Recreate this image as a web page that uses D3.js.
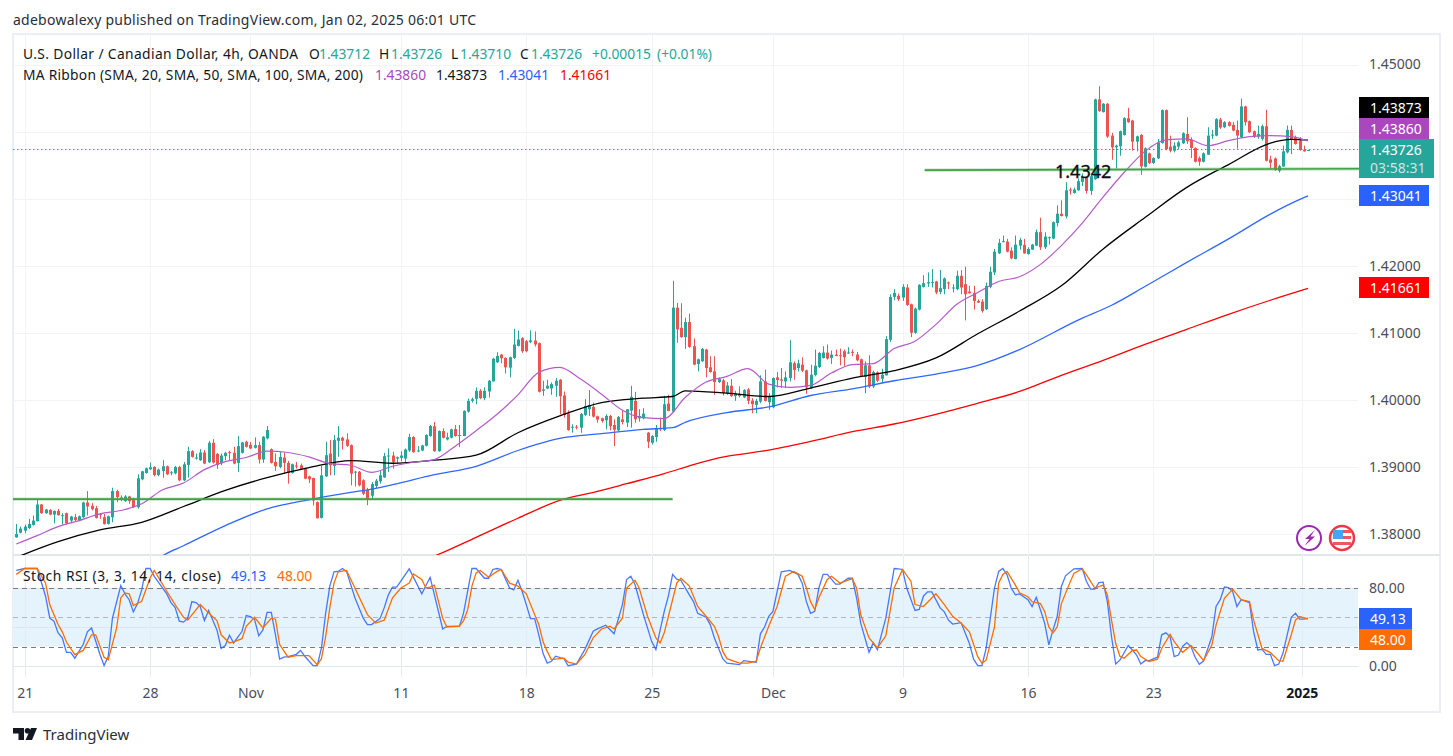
<!DOCTYPE html>
<html>
<head>
<meta charset="utf-8">
<script src="https://cdnjs.cloudflare.com/ajax/libs/d3/7.8.5/d3.min.js"></script>
<style>
  html, body { margin: 0; padding: 0; background: #fff; }
  svg { display: block; }
  text { font-family: "Noto Sans", sans-serif; }
</style>
</head>
<body>
<div id="container"></div>
<script>
// 4h candles, oldest first
const opens = [
1.3795,1.3802,1.3805,1.3809,1.38135,1.3819,1.3844,1.3831,1.3836,1.3829,
1.38345,1.3827,1.3831,1.382,1.3825,1.382,1.3825,1.3847,1.3842,1.38385,
1.38295,1.3825,1.3815,1.3825,1.3864,1.38545,1.3849,1.3856,1.3852,1.384,
1.38815,1.3891,1.38965,1.39,1.3888,1.3894,1.3901,1.38905,1.38905,1.39,
1.388,1.3903,1.39235,1.39125,1.391,1.39215,1.3907,1.3936,1.39195,1.39055,
1.3916,1.3922,1.3921,1.3906,1.3921,1.39375,1.3933,1.39285,1.39325,1.3911,
1.39425,1.39265,1.39075,1.39,1.3914,1.3906,1.3891,1.3902,1.39025,1.3898,
1.3886,1.38835,1.38475,1.3824,1.3886,1.392,1.39015,1.3939,1.39435,1.3941,
1.39325,1.3892,1.3893,1.388,1.3866,1.3857,1.38715,1.38785,1.38845,1.3916,
1.3917,1.39125,1.39135,1.39125,1.39245,1.39445,1.39235,1.39245,1.39315,1.3946,
1.39605,1.39235,1.39535,1.3941,1.39435,1.39565,1.39475,1.3946,1.39825,1.39985,
1.40015,1.40135,1.40025,1.40125,1.40275,1.4056,1.40675,1.40625,1.4048,1.40625,
1.40805,1.4092,1.40875,1.4086,1.40885,1.40845,1.40135,1.4017,1.4017,1.4021,
1.403,1.40065,1.39795,1.39585,1.396,1.39585,1.39775,1.3986,1.39895,1.39755,
1.39725,1.39695,1.3976,1.39625,1.39545,1.3971,1.3966,1.3984,1.39985,1.39725,
1.39725,1.3951,1.3936,1.39445,1.39575,1.3955,1.39945,1.39825,1.41375,1.41075,
1.40935,1.4116,1.408,1.40535,1.40575,1.4075,1.40485,1.40425,1.40265,1.4029,
1.401,1.4021,1.40055,1.4009,1.40035,1.40155,1.3999,1.39925,1.39975,1.40275,
1.39965,1.3989,1.40335,1.40305,1.40275,1.40325,1.40545,1.40475,1.40525,1.4044,
1.40175,1.4037,1.4049,1.40625,1.40705,1.40625,1.40675,1.40665,1.40725,1.40695,
1.40715,1.40675,1.40605,1.4034,1.40515,1.402,1.4041,1.40315,1.40365,1.40895,
1.41535,1.4155,1.41525,1.41675,1.41425,1.41,1.41345,1.41685,1.41735,1.4175,
1.41765,1.4161,1.4165,1.4175,1.41665,1.4165,1.4185,1.41725,1.41615,1.41595,
1.41475,1.41465,1.4135,1.41685,1.419,1.42185,1.4235,1.4236,1.42225,1.421,
1.423,1.4231,1.42175,1.4224,1.423,1.425,1.42275,1.42415,1.42405,1.42635,
1.42775,1.42735,1.43135,1.43085,1.43125,1.4325,1.4331,1.43115,1.4329,1.4448,
1.4429,1.44415,1.4394,1.43765,1.4378,1.4395,1.442,1.44165,1.4385,1.4395,
1.43475,1.43675,1.4353,1.436,1.4383,1.4432,1.43775,1.43715,1.43775,1.43825,
1.43965,1.43875,1.43755,1.43605,1.4355,1.43655,1.4395,1.4394,1.4418,1.44065,
1.4414,1.441,1.44025,1.43915,1.44375,1.44155,1.44005,1.43925,1.4389,1.4408,
1.43585,1.436,1.43415,1.4348,1.4369,1.44025,1.43915,1.43865,1.4373,1.43712];
const highs = [
1.3815,1.3811,1.3814,1.38225,1.38275,1.3851,1.3845,1.38375,1.3837,1.3835,
1.38375,1.3831,1.3832,1.3827,1.383,1.38275,1.3848,1.3864,1.3846,1.3842,
1.3831,1.383,1.38275,1.3869,1.3866,1.38575,1.3858,1.3857,1.3854,1.3889,
1.3894,1.3899,1.39065,1.3901,1.38975,1.391,1.3902,1.3894,1.39015,1.39015,
1.39075,1.393,1.3925,1.392,1.39265,1.3925,1.3939,1.39415,1.39205,1.392,
1.39225,1.3924,1.393,1.3946,1.39375,1.3939,1.3937,1.3944,1.39375,1.3946,
1.3961,1.39275,1.392,1.39225,1.3921,1.3909,1.3905,1.39075,1.3905,1.3899,
1.3887,1.3884,1.38485,1.39015,1.39375,1.394,1.39475,1.3961,1.3945,1.395,
1.39335,1.3894,1.3894,1.38815,1.3869,1.38775,1.3882,1.38945,1.3921,1.39275,
1.39225,1.39155,1.39235,1.39275,1.39495,1.3946,1.3931,1.3933,1.39485,1.39625,
1.3967,1.39545,1.39575,1.3951,1.3957,1.39625,1.39625,1.39845,1.4002,1.40035,
1.40185,1.4016,1.40185,1.40295,1.40625,1.4071,1.40685,1.40635,1.40645,1.4106,
1.41035,1.40935,1.40895,1.41035,1.4102,1.40855,1.40285,1.403,1.4026,1.40325,
1.4031,1.40125,1.39845,1.39635,1.39625,1.39805,1.4001,1.40145,1.3996,1.39765,
1.39735,1.39785,1.39775,1.3971,1.3976,1.39845,1.3986,1.4021,1.4012,1.3986,
1.39875,1.3952,1.39475,1.39625,1.39735,1.4006,1.40075,1.41775,1.41445,1.4144,
1.41225,1.41285,1.40915,1.40615,1.40775,1.4076,1.4065,1.4065,1.40335,1.40315,
1.40265,1.4031,1.40135,1.402,1.4016,1.40175,1.40025,1.40015,1.40365,1.4045,
1.401,1.40335,1.40415,1.40475,1.40425,1.4089,1.40575,1.406,1.40635,1.4045,
1.40525,1.4075,1.40715,1.408,1.40825,1.40735,1.4075,1.40765,1.4075,1.40785,
1.4075,1.40715,1.40615,1.40575,1.40665,1.40435,1.40425,1.40465,1.4095,1.41575,
1.4165,1.41585,1.41725,1.41725,1.41435,1.41375,1.41725,1.4186,1.419,1.4195,
1.41775,1.41935,1.41825,1.41765,1.41725,1.41925,1.41935,1.41985,1.417,1.417,
1.415,1.415,1.4175,1.41985,1.4225,1.424,1.4245,1.424,1.42275,1.4245,
1.42415,1.424,1.42275,1.42325,1.4254,1.42715,1.425,1.42435,1.4266,1.429,
1.42975,1.43245,1.43165,1.43165,1.433,1.43375,1.43325,1.4335,1.4449,1.44675,
1.44425,1.44425,1.4398,1.43805,1.44015,1.44215,1.44355,1.44175,1.4394,1.43965,
1.43765,1.43685,1.43615,1.4389,1.4433,1.4433,1.4394,1.4384,1.43865,1.4399,
1.44215,1.43915,1.43765,1.4363,1.4369,1.44065,1.44025,1.442,1.44205,1.44155,
1.44155,1.4414,1.44165,1.4449,1.44385,1.44165,1.44015,1.4409,1.44105,1.44325,
1.4364,1.43615,1.43505,1.4379,1.4409,1.4409,1.4394,1.43915,1.4379,1.43726];
const lows = [
1.37945,1.3801,1.3801,1.38075,1.38125,1.3819,1.383,1.383,1.3828,1.3816,
1.38275,1.3814,1.3814,1.3816,1.3819,1.3819,1.3824,1.38275,1.3835,1.3823,
1.38225,1.3814,1.3814,1.38175,1.38475,1.3849,1.3848,1.3845,1.3839,1.3838,
1.388,1.389,1.38955,1.3886,1.3886,1.3884,1.3888,1.38875,1.3889,1.38785,
1.3879,1.3884,1.3914,1.3911,1.3909,1.3904,1.3906,1.3905,1.3897,1.39025,
1.391,1.391,1.3904,1.38925,1.392,1.3929,1.39265,1.39275,1.3905,1.3906,
1.3941,1.3905,1.3894,1.3898,1.389,1.3875,1.389,1.38975,1.3896,1.38815,
1.3876,1.38425,1.3823,1.3823,1.3885,1.38875,1.38875,1.3915,1.3926,1.393,
1.38725,1.3871,1.3871,1.3858,1.3843,1.3851,1.3868,1.3875,1.38835,1.38925,
1.38975,1.3906,1.39085,1.39075,1.39225,1.3921,1.3922,1.39235,1.39305,1.3945,
1.39225,1.39225,1.39425,1.39395,1.39425,1.3945,1.39295,1.3946,1.3981,1.3996,
1.39935,1.4001,1.39995,1.40035,1.40275,1.4055,1.40545,1.40395,1.40335,1.4061,
1.40795,1.407,1.4071,1.40845,1.40795,1.4011,1.4006,1.4016,1.40075,1.40045,
1.39785,1.39735,1.3954,1.3951,1.3956,1.3951,1.3976,1.3976,1.39735,1.3966,
1.3966,1.3956,1.39545,1.3931,1.39535,1.39635,1.39595,1.39585,1.3966,1.39675,
1.3971,1.3928,1.39335,1.39375,1.39535,1.39535,1.3983,1.39815,1.4085,1.40925,
1.4076,1.40775,1.40515,1.40425,1.40565,1.40335,1.40405,1.40075,1.4025,1.40065,
1.40075,1.40045,1.39985,1.40035,1.40025,1.39935,1.398,1.398,1.3995,1.39975,
1.3985,1.39875,1.40185,1.40175,1.40175,1.40275,1.403,1.40425,1.40415,1.4009,
1.40165,1.4035,1.40475,1.40615,1.406,1.40535,1.4065,1.40515,1.405,1.40685,
1.4065,1.40575,1.4034,1.401,1.40175,1.40175,1.40265,1.4025,1.40365,1.40865,
1.41485,1.41475,1.41475,1.414,1.40935,1.40985,1.41335,1.41675,1.41685,1.41675,
1.41575,1.41575,1.41575,1.4165,1.416,1.41635,1.41575,1.41185,1.41585,1.41345,
1.41445,1.413,1.4134,1.41665,1.4186,1.42175,1.4235,1.422,1.42095,1.42095,
1.4224,1.4218,1.42165,1.42235,1.4229,1.42235,1.4225,1.42315,1.42395,1.42585,
1.42735,1.42705,1.4306,1.43075,1.43115,1.4319,1.43075,1.43055,1.4328,1.44295,
1.44285,1.43905,1.4358,1.4345,1.4364,1.4394,1.4413,1.43715,1.43705,1.43355,
1.43465,1.43515,1.43515,1.4359,1.4382,1.4372,1.4369,1.4369,1.43735,1.43815,
1.43815,1.43605,1.4354,1.4349,1.4354,1.43655,1.4389,1.4393,1.4404,1.4405,
1.44075,1.44005,1.43745,1.43905,1.4409,1.4398,1.43905,1.4389,1.43865,1.43555,
1.4344,1.43415,1.4339,1.43475,1.43675,1.43665,1.43805,1.43715,1.437,1.4371];
const closes = [
1.38,1.3808,1.3811,1.3815,1.382,1.3844,1.3831,1.38365,1.3829,1.38345,
1.3828,1.3828,1.3816,1.3826,1.3821,1.38265,1.3847,1.3841,1.3837,1.3824,
1.38285,1.3815,1.38265,1.3864,1.3855,1.3851,1.3856,1.3849,1.384,1.3883,
1.38935,1.3898,1.38995,1.3888,1.3896,1.3901,1.3889,1.3892,1.39,1.388,
1.3904,1.39235,1.3915,1.3914,1.39215,1.3905,1.3936,1.39065,1.3903,1.3917,
1.3921,1.3921,1.3905,1.3931,1.39365,1.393,1.39275,1.39325,1.3911,1.3945,
1.3955,1.3906,1.3901,1.3915,1.3906,1.3891,1.3904,1.39005,1.38965,1.38825,
1.38815,1.385,1.38235,1.38875,1.39175,1.39025,1.394,1.39435,1.3939,1.39315,
1.389,1.3893,1.38725,1.386,1.3851,1.38745,1.38795,1.38875,1.3916,1.3917,
1.39075,1.39145,1.3917,1.3926,1.39445,1.3922,1.39245,1.3932,1.39475,1.3961,
1.39235,1.39535,1.39435,1.3944,1.3956,1.3946,1.39465,1.39835,1.39985,1.4001,
1.40135,1.40025,1.40135,1.40285,1.40615,1.40655,1.4062,1.40485,1.40635,1.40825,
1.409,1.40725,1.40725,1.40885,1.40825,1.4012,1.40155,1.4021,1.40235,1.40285,
1.40055,1.39775,1.3955,1.396,1.39585,1.3979,1.3991,1.39925,1.3975,1.39705,
1.39685,1.3976,1.3961,1.39555,1.39745,1.3967,1.3986,1.40045,1.3971,1.3976,
1.39795,1.39375,1.3946,1.39575,1.3956,1.39935,1.39835,1.41375,1.4105,1.40935,
1.4116,1.4079,1.40525,1.40605,1.4076,1.40475,1.40415,1.40265,1.40315,1.401,
1.40215,1.40055,1.40095,1.40055,1.40145,1.39985,1.39935,1.39985,1.40275,1.39985,
1.4005,1.40325,1.40295,1.40285,1.40335,1.4056,1.40445,1.40545,1.40435,1.40185,
1.40375,1.4051,1.407,1.40705,1.40615,1.40675,1.40655,1.4065,1.40635,1.40705,
1.407,1.4059,1.4035,1.40515,1.402,1.40415,1.40285,1.40375,1.40905,1.41535,
1.41595,1.415,1.41685,1.41415,1.41,1.4136,1.41715,1.4174,1.41755,1.41755,
1.416,1.41665,1.4181,1.41735,1.41675,1.4185,1.41675,1.41575,1.4159,1.41475,
1.4145,1.41325,1.417,1.4191,1.4221,1.4234,1.42365,1.4221,1.4211,1.42315,
1.42385,1.42185,1.4225,1.42315,1.425,1.42275,1.42435,1.42425,1.4265,1.42775,
1.4274,1.43125,1.43125,1.43135,1.4326,1.43325,1.43115,1.43335,1.4448,1.44305,
1.44415,1.43925,1.43765,1.4379,1.44005,1.442,1.4414,1.4385,1.4393,1.4348,
1.4375,1.4353,1.43605,1.43835,1.4432,1.4374,1.43715,1.4379,1.4384,1.43975,
1.43855,1.43755,1.4355,1.4355,1.43675,1.4394,1.43955,1.44185,1.4406,1.4414,
1.44085,1.44015,1.4394,1.44375,1.4414,1.4399,1.43925,1.43965,1.4408,1.43565,
1.43535,1.43425,1.43485,1.43705,1.44025,1.43875,1.43815,1.43725,1.43705,1.43726];

// moving averages, read at the listed bars
const ma20Bars = d3.range(0, 310, 5).concat([309]);
const ma20Vals = [1.3785,1.37975,1.3811,1.382,1.383,1.3835,1.3845,1.3866,1.3876,1.3896,
  1.3908,1.3914,1.39235,1.39215,1.3915,1.3905,1.39025,1.3892,1.3901,1.3907,
  1.3911,1.3931,1.3954,1.39785,1.40075,1.4041,1.40485,1.4031,1.40085,1.39845,
  1.39735,1.3972,1.40035,1.40265,1.4035,1.40465,1.40235,1.40185,1.40215,1.404,
  1.40525,1.4054,1.40765,1.40875,1.41125,1.41425,1.416,1.41765,1.41835,1.4202,
  1.423,1.42635,1.43025,1.4339,1.43705,1.43875,1.4389,1.4379,1.43865,1.43925,
  1.4394,1.43925,1.4386];
const ma50Bars = [0,10,20,30,40,50,60,70,80,90,100,110,120,130,140,150,157,160,170,180,190,200,210,220,230,240,250,260,270,280,290,300,305,309];
const ma50Vals = [1.3765,1.37885,1.3806,1.38175,1.3841,1.3865,1.3884,1.3899,1.39095,1.39055,1.391,1.39175,1.3951,1.3976,1.3996,1.40025,1.4005,1.40135,1.401,1.4005,1.40175,1.40325,1.40435,1.40625,1.40985,1.41325,1.417,1.4225,1.42718,1.43168,1.43508,1.43828,1.43883,1.43873];
const ma100Bars = [30,35,40,50,60,70,80,85,90,100,110,120,130,140,150,157,160,170,180,190,200,210,220,230,240,254,262,270,280,290,300,305,309];
const ma100Vals = [1.3743,1.37675,1.37825,1.38125,1.38375,1.3851,1.3862,1.3867,1.38735,1.38885,1.3901,1.39245,1.39425,1.39495,1.3956,1.39585,1.39665,1.3981,1.39895,1.40065,1.40165,1.40285,1.40385,1.40515,1.4075,1.4119,1.4141,1.4169,1.4205,1.424,1.4277,1.4293,1.43041];
const ma200Bars = [95,100,110,120,130,139,146,155,162,168,180,190,200,210,220,230,240,250,260,270,280,290,300,309];
const ma200Vals = [1.3755,1.3767,1.3795,1.38235,1.385,1.38635,1.3875,1.389,1.39035,1.39135,1.3925,1.3938,1.39525,1.3964,1.39785,1.3995,1.40125,1.40366,1.4059,1.40828,1.41052,1.41276,1.41485,1.41661];

// Stoch RSI, read at the listed bars
const stochKBars = [0,2,5,7,8,9,10,11,12,13,14,16,17,18,20,21,22,23,25,26,27,28,29,30,31,32,33,36,37,38,39,40,41,42,43,44,45,46,48,49,50,51,52,54,55,56,57,58,59,60,61,62,63,64,65,67,68,69,71,72,73,74,75,76,77,78,79,81,83,84,85,87,88,89,90,91,94,97,99,102,103,106,107,109,110,
  112,113,114,115,116,118,119,120,121,122,123,124,125,126,127,128,129,131,132,134,136,138,139,141,143,145,146,147,148,150,152,153,155,156,157,158,159,161,162,163,165,166,167,169,170,173,174,177,178,179,180,181,183,185,187,188,189,190,191,192,193,194,196,197,199,200,201,202,204,205,206,208,210,211,212,213,215,216,217,218,219,221,222,223,224,
  226,228,229,230,231,232,234,235,236,237,238,239,240,242,243,244,245,246,247,248,249,250,251,253,255,256,257,258,259,260,261,262,263,264,266,267,268,269,270,271,273,274,275,276,277,278,279,280,281,282,283,284,286,287,288,289,290,291,292,293,295,296,297,298,299,300,301,302,303,305,306,307,308,309];
const stochKVals = [98,100,100,71.6,49,46,34,29,14,14,8,22,35,39,12,0.5,10,49,82.5,74,68,55.5,64,78,100,100,92,74,65,60,46,45,49,66,65,61,46.5,57,37,18,21,31.5,23.6,35.6,51.7,50.7,47.6,31,37,55,55,32,7,9,9.6,12,16,10,0.3,0.3,18.5,54,82,96.6,97,100,97,70,49,42.5,42.5,48.6,59.6,73,81,81,99.6,74,91,38,40.7,40.7,54.5,100,100,
  90,90,99,100,99,80,78,88,76.7,63,48.6,48.6,32,13,3,4.8,10,7.5,0.3,2,16.8,35.6,38,41.8,33,63,88.7,92,83.6,53,25,16.8,56,72,94,89,87.7,73,66,54,50,42.5,28.8,7.5,3,1.4,5.5,3.8,33,40,51,56,96.6,98,94,85,66,54,56,80,94,94,84,84,90,90,70,44,14,23.6,16.8,49,100,99.6,99,80,57,58,71.6,76,76,59.6,55.5,47,43,
  44.5,23,7,0.3,0.3,18,80,97,100,93.5,80,73,74,68,61,70.5,57.5,44,21.6,37,50.7,81.5,92.5,99.7,100,86.6,78.8,78.8,85.6,86,66,30,2,6,21,16.4,11.3,2,5.5,5.5,9,32,34,30,9.6,11.3,20,24,20,9,1.7,5,30,61,68,81,80.5,76,61,68,65,35,16.4,17,12,12,0.3,2,13,50,54,48,48,49.13];
const stochDBars = [0,2,5,7,8,10,11,12,14,16,18,19,21,22,24,25,26,27,28,30,32,33,36,38,40,41,44,46,48,49,51,52,54,55,57,59,61,62,63,65,67,70,72,73,74,75,76,77,79,81,84,86,88,90,92,94,95,97,98,99,100,102,103,106,107,108,109,110,
  111,113,115,116,118,120,122,124,125,126,127,128,131,132,134,136,138,140,142,143,145,146,148,149,151,153,154,155,156,158,159,161,163,165,167,168,169,170,173,175,177,178,180,182,183,184,186,188,189,190,191,192,194,195,197,200,201,202,204,206,208,210,212,214,215,217,220,222,224,
  226,228,230,231,232,234,235,236,237,239,240,242,243,245,246,247,248,249,250,252,253,255,256,258,260,261,262,263,264,265,267,268,269,271,273,274,276,277,279,281,283,284,286,287,289,291,293,295,296,298,300,302,303,305,306,307,309];
const stochDVals = [94,100,100,85,63,42.5,35,24.6,11.6,16,32,32,9,6.5,39,70,75,74,62,66.4,90,98,76.7,63,50,47,63,54.5,46.6,32,23.6,24.7,28,40.7,50,39,49,48,22,9,10.6,10.6,1.4,7.5,30,59.6,85,96.6,98,80,52.7,44,47,70,80,85,94.5,88.7,80,81,83,49,40,41,46.6,58,82,95.5,
  98,91,97,99,85,82,74,52.7,42.5,25,15,6.5,8,4,2,11.6,28.8,38,40.7,38,49,80,88,80,51,28.8,23.6,34,51,85,90,82,61,51,40.7,30,15,7.5,3,3,5,18.5,40.7,61,76.7,92,97,92,80,66,58,70,88.7,92,85,89.7,80,52.7,28.8,18.5,31,80,99,87,63,61,74,63,51,
  44,35,9.6,2.7,6,40,85,94,97,83,75,71,66,64,56,40,34,40,64,85,95,99.7,93.5,80,83,73,47,23,10,8,16,16.4,9.6,4.5,7,18,32.5,25,14,21,11,5.5,21.6,42,69.5,78.8,68,66,47,18,13.7,5.5,4.8,32,47,50.7,48];

// support lines and tick labels
const supportLowBars = [-0.8, 157];
const supportLowVals = [1.3852, 1.3852];
const supportHighBars = [217.3, 321.2];
const supportHighVals = [1.43425, 1.43445];
const priceGrid = [1.38, 1.39, 1.40, 1.41, 1.42, 1.43, 1.44, 1.45];
const priceLabels = [1.38, 1.39, 1.40, 1.41, 1.42, 1.45]; // 1.43 and 1.44 sit behind the tags
const stochGrid = [0, 40, 80];
const stochLabels = [0, 80];
const timeBars = [2, 32, 56, 92, 122, 152, 181, 212, 242, 272, 307.5];
const timeLabels = ["21", "28", "Nov", "11", "18", "25", "Dec", "9", "16", "23", "2025"];

const W = 1453, H = 756;
const plotLeft = 13, plotRight = 1358;
const paneTop = 35, paneBottom = 555, stochBottom = 677;
const TEAL = "#26a69a", RED = "#ef5350", PURPLE = "#ab47bc", BLUE = "#2962ff", ORANGE = "#ff6d00", INK = "#131722";
const AXIS_SIZE = 14;

let svg = d3.select("#container").append("svg").attr("width", W).attr("height", H);

let xScale = d3.scaleLinear().domain([0, 309]).range([16.3, 1308]);
let yScale = d3.scaleLinear().domain([1.38, 1.45]).range([534, 64.5]);
let stochScale = d3.scaleLinear().domain([0, 80]).range([666, 588]);

function snap(v) { return Math.round(v) + 0.5; }

let defs = svg.append("defs");
defs.append("clipPath").attr("id", "clipPrice").append("rect")
  .attr("x", plotLeft).attr("y", paneTop).attr("width", plotRight - plotLeft).attr("height", paneBottom - paneTop);
defs.append("clipPath").attr("id", "clipStoch").append("rect")
  .attr("x", plotLeft).attr("y", paneBottom + 1).attr("width", plotRight - plotLeft).attr("height", stochBottom - paneBottom);

// frame
svg.append("rect").attr("x", 13).attr("y", 34).attr("width", 1427).attr("height", 678)
  .attr("fill", "none").attr("stroke", "#eceef5").attr("stroke-width", 2);
svg.append("line").attr("x1", 13).attr("x2", 1440).attr("y1", 555).attr("y2", 555)
  .attr("stroke", "#e3e5ec").attr("stroke-width", 2);

// grid
svg.append("g").selectAll("line").data(timeBars).enter().append("line")
  .attr("x1", d => snap(xScale(d))).attr("x2", d => snap(xScale(d)))
  .attr("y1", paneTop).attr("y2", stochBottom)
  .attr("stroke", "#f1f3f7");
svg.append("g").selectAll("line").data(priceGrid).enter().append("line")
  .attr("x1", plotLeft).attr("x2", plotRight)
  .attr("y1", d => snap(yScale(d))).attr("y2", d => snap(yScale(d)))
  .attr("stroke", "#f1f3f7");

// stoch background goes under the stoch grid
svg.append("rect").attr("x", plotLeft).attr("width", plotRight - plotLeft)
  .attr("y", stochScale(80)).attr("height", stochScale(20) - stochScale(80))
  .attr("fill", "#e5f3fd");
svg.append("g").selectAll("line").data(stochGrid).enter().append("line")
  .attr("x1", plotLeft).attr("x2", plotRight)
  .attr("y1", d => snap(stochScale(d))).attr("y2", d => snap(stochScale(d)))
  .attr("stroke", "#dfe6ee");
svg.append("g").selectAll("line").data(timeBars).enter().append("line")
  .attr("x1", d => snap(xScale(d))).attr("x2", d => snap(xScale(d)))
  .attr("y1", paneBottom + 1).attr("y2", stochBottom)
  .attr("stroke", "#e6ebf1");

let stochPane = svg.append("g").attr("clip-path", "url(#clipStoch)");
[[80, "#787b86"], [20, "#787b86"], [50, "#b2b5be"]].forEach(function (lvl) {
  stochPane.append("line")
    .attr("x1", plotLeft).attr("x2", plotRight)
    .attr("y1", snap(stochScale(lvl[0]))).attr("y2", snap(stochScale(lvl[0])))
    .attr("stroke", lvl[1]).attr("stroke-dasharray", "5 4");
});

let stochLine = d3.line().x(d => xScale(d[0])).y(d => stochScale(d[1]));
stochPane.append("path").attr("d", stochLine(d3.zip(stochKBars, stochKVals)))
  .attr("fill", "none").attr("stroke", BLUE).attr("stroke-opacity", 0.85).attr("stroke-width", 1.3);
stochPane.append("path").attr("d", stochLine(d3.zip(stochDBars, stochDVals)))
  .attr("fill", "none").attr("stroke", ORANGE).attr("stroke-width", 1.3);

// price pane
let pricePane = svg.append("g").attr("clip-path", "url(#clipPrice)");

let lastY = Math.floor(yScale(closes[closes.length - 1])) + 0.5;
pricePane.append("line")
  .attr("x1", plotLeft).attr("x2", plotRight)
  .attr("y1", lastY).attr("y2", lastY)
  .attr("stroke", TEAL).attr("stroke-dasharray", "1.5 2.5");

let candles = d3.range(opens.length);
pricePane.append("g").selectAll("line").data(candles).enter().append("line")
  .attr("x1", d => snap(xScale(d))).attr("x2", d => snap(xScale(d)))
  .attr("y1", d => yScale(highs[d])).attr("y2", d => yScale(lows[d]))
  .attr("stroke", d => closes[d] >= opens[d] ? TEAL : RED);
pricePane.append("g").selectAll("rect").data(candles).enter().append("rect")
  .attr("x", d => snap(xScale(d)) - 1.5)
  .attr("width", 3)
  .attr("y", d => yScale(Math.max(opens[d], closes[d])))
  .attr("height", d => Math.max(1, Math.abs(yScale(opens[d]) - yScale(closes[d]))))
  .attr("fill", d => closes[d] >= opens[d] ? TEAL : RED);

let maLine = d3.line().x(d => xScale(d[0])).y(d => yScale(d[1])).curve(d3.curveMonotoneX);
[[ma200Bars, ma200Vals, "#ff0000", 1.3], [ma100Bars, ma100Vals, "#2f68ff", 1.3], [ma50Bars, ma50Vals, "#000", 1.3], [ma20Bars, ma20Vals, "#b35cc9", 1.2]].forEach(function (m) {
  pricePane.append("path").attr("d", maLine(d3.zip(m[0], m[1])))
    .attr("fill", "none").attr("stroke", m[2]).attr("stroke-width", m[3]).attr("stroke-linejoin", "round");
});

// hand drawn support lines
let levelLine = d3.line().x(d => xScale(d[0])).y(d => yScale(d[1]));
[[supportLowBars, supportLowVals], [supportHighBars, supportHighVals]].forEach(function (s) {
  let pts = d3.zip(s[0], s[1]);
  svg.append("path").attr("d", levelLine(pts)).attr("fill", "none").attr("stroke", "#4caf50").attr("stroke-opacity", 0.35).attr("stroke-width", 3.4);
  svg.append("path").attr("d", levelLine(pts)).attr("fill", "none").attr("stroke", "#43a047").attr("stroke-width", 1.6);
});
svg.append("text").attr("x", 1055).attr("y", 178).attr("font-size", 18).attr("fill", "#0b0e14")
  .attr("stroke", "#0b0e14").attr("stroke-width", 0.35).text("1.4342");

// axes
function styleAxis(g) {
  g.select(".domain").remove();
  g.selectAll("text").attr("font-size", AXIS_SIZE).attr("fill", "#4a4e59").style("font-family", '"Noto Sans", sans-serif');
}
let priceAxis = d3.axisRight(yScale).tickValues(priceLabels).tickSize(0).tickPadding(0).tickFormat(d3.format(".5f"));
svg.append("g").attr("transform", "translate(1369,0)").call(priceAxis).call(styleAxis);

let stochAxis = d3.axisRight(stochScale).tickValues(stochLabels).tickSize(0).tickPadding(0).tickFormat(d3.format(".2f"));
svg.append("g").attr("transform", "translate(1369,0)").call(stochAxis).call(styleAxis);

let timeAxis = d3.axisBottom(xScale).tickValues(timeBars).tickSize(0).tickPadding(0)
  .tickFormat((d, i) => timeLabels[i]);
svg.append("g").attr("transform", "translate(0,688)").call(timeAxis).call(styleAxis)
  .call(g => g.selectAll("text").filter(d => d === 307.5).attr("font-weight", "bold").attr("fill", INK));

// price tags
function tag(y0, y1, right, color, txt, txtY) {
  svg.append("rect").attr("x", 1359).attr("y", y0).attr("width", right - 1359).attr("height", y1 - y0).attr("fill", color);
  svg.append("text").attr("x", 1370).attr("y", txtY).attr("font-size", AXIS_SIZE).attr("fill", "#fff").text(txt);
}
tag(97, 118, 1429, "#000000", "1.43873", 112.5);
tag(118, 139, 1429, PURPLE, "1.43860", 133.5);
tag(139, 178, 1434, TEAL, "1.43726", 154.5);
svg.append("text").attr("x", 1370).attr("y", 172.5).attr("font-size", AXIS_SIZE).attr("fill", "#fff").attr("fill-opacity", 0.75).text("03:58:31");
tag(185, 206, 1429, BLUE, "1.43041", 200.5);
tag(277, 298, 1429, "#ff0000", "1.41661", 292.5);
tag(608, 629, 1412, BLUE, "49.13", 623.5);
tag(629, 650, 1412, ORANGE, "48.00", 644.5);

// header and legends
function label(x, y, txt, color, size, fitWidth) {
  let t = svg.append("text").attr("x", x).attr("y", y).attr("font-size", size || 13.8).attr("fill", color || INK).text(txt);
  if (fitWidth) t.attr("textLength", fitWidth);
}
label(13, 25, "adebowalexy published on TradingView.com, Jan 02, 2025 06:01 UTC", "#2a2e39", 14, 463);

label(23, 59, "U.S. Dollar / Canadian Dollar, 4h, OANDA", INK, 13.8, 275);
label(309, 59, "O"); label(319, 59, "1.43712", TEAL);
label(379, 59, "H"); label(391, 59, "1.43726", TEAL);
label(451, 59, "L"); label(460, 59, "1.43710", TEAL);
label(520, 59, "C"); label(531, 59, "1.43726", TEAL);
label(592, 59, "+0.00015", TEAL); label(657, 59, "(+0.01%)", TEAL);

label(23, 80, "MA Ribbon (SMA, 20, SMA, 50, SMA, 100, SMA, 200)", INK, 13.8, 340);
label(375, 80, "1.43860", PURPLE); label(436, 80, "1.43873"); label(498, 80, "1.43041", BLUE); label(560, 80, "1.41661", "#ff0000");

label(23, 581, "Stoch RSI (3, 3, 14, 14, close)", INK, 13.8, 198);
label(231, 581, "49.13", BLUE); label(277, 581, "48.00", ORANGE);

// round badges, lower right of the price pane
svg.append("circle").attr("cx", 1309).attr("cy", 538).attr("r", 12).attr("fill", "#fff").attr("stroke", "#9c27b0").attr("stroke-width", 2);
svg.append("path").attr("d", "M1315 530l-10 9h4.5l-5 7 10.5-9.5h-4.5z").attr("fill", "#9c27b0");
svg.append("circle").attr("cx", 1342).attr("cy", 538).attr("r", 12).attr("fill", "#fff").attr("stroke", "#f23645").attr("stroke-width", 2.5);
svg.append("rect").attr("x", 1333).attr("y", 530).attr("width", 18).attr("height", 3).attr("fill", "#f7525f");
svg.append("rect").attr("x", 1333).attr("y", 536).attr("width", 18).attr("height", 3).attr("fill", "#f7525f");
svg.append("rect").attr("x", 1333).attr("y", 542).attr("width", 18).attr("height", 3).attr("fill", "#f7525f");
svg.append("rect").attr("x", 1333).attr("y", 530).attr("width", 10).attr("height", 9).attr("fill", "#42a5f5");

// TradingView mark
svg.append("path").attr("d", "M13 728h11v12h-5.5v-6.5h-5.5z").attr("fill", INK);
svg.append("circle").attr("cx", 27.5).attr("cy", 730.8).attr("r", 2.8).attr("fill", INK);
svg.append("path").attr("d", "M31 728h6l-5 12h-6.5z").attr("fill", INK);
label(43, 740, "TradingView", "#2a2e39", 15);
</script>
</body>
</html>
